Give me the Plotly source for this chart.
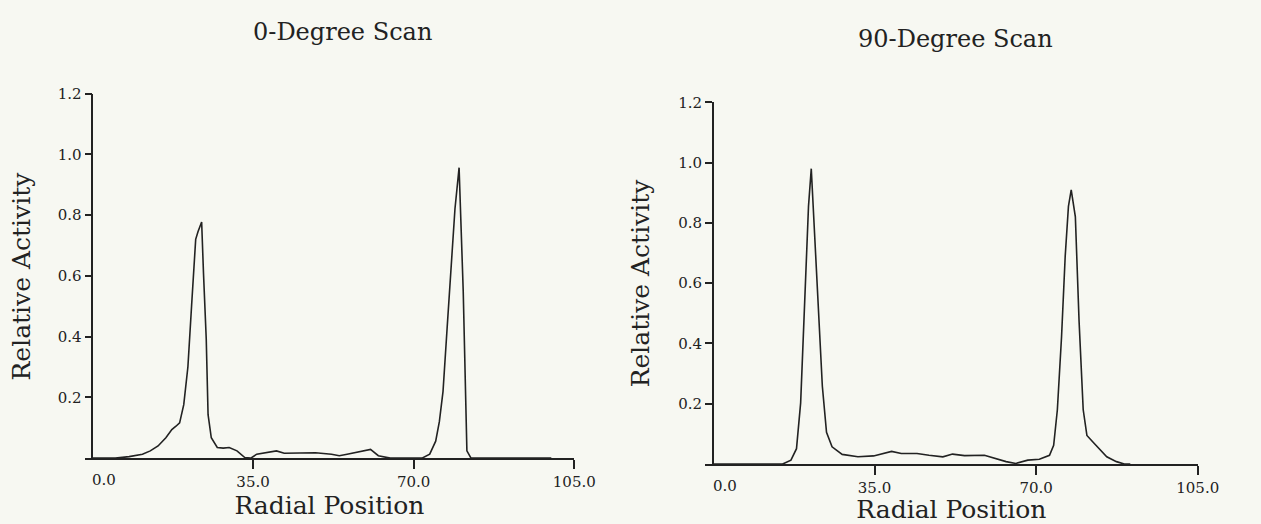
import plotly.graph_objects as go

# Radial activity profiles (relative activity vs radial position)
pos_0deg = [0, 5, 8, 9.2, 10.9, 12.6, 14.3, 16.0, 17.3, 18.2, 19.0, 19.9, 20.8, 21.6,
            22.5, 23.0, 23.4, 23.8, 24.2, 24.8, 25.2, 25.9, 27.2, 28.5, 29.8, 31.5,
            33.2, 34.5, 35.8, 38.3, 40.1, 41.8, 45.2, 48.6, 52.1, 53.8, 55.5, 58.9,
            60.6, 62.3, 64.9, 69.2, 71.8, 73.5, 74.8, 75.6, 76.4, 77.3, 78.2, 79.0,
            79.9, 80.8, 81.6, 82.5, 90.0, 100.0]
act_0deg = [0.0, 0.0, 0.005, 0.008, 0.013, 0.024, 0.04, 0.067, 0.094, 0.105, 0.116,
            0.176, 0.3, 0.5, 0.72, 0.745, 0.765, 0.777, 0.609, 0.392, 0.143, 0.067,
            0.035, 0.033, 0.035, 0.024, 0.002, 0.0, 0.013, 0.018, 0.024, 0.016,
            0.018, 0.018, 0.013, 0.008, 0.013, 0.024, 0.029, 0.008, 0.0, 0.0, 0.0,
            0.013, 0.056, 0.12, 0.22, 0.43, 0.65, 0.82, 0.956, 0.55, 0.024, 0.0,
            0.0, 0.0]

pos_90deg = [0, 10, 15.1, 16.9, 18.1, 19.0, 19.8, 20.7, 21.3, 21.9, 22.8, 23.7, 24.6,
             25.8, 28.0, 31.4, 34.8, 37.0, 38.7, 40.8, 44.2, 46.8, 49.8, 51.9, 54.5,
             58.8, 61.3, 63.5, 65.6, 68.2, 70.7, 72.9, 73.8, 74.6, 75.5, 76.3, 77.0,
             77.6, 78.5, 79.3, 80.2, 81.0, 82.3, 83.6, 85.3, 87.4, 89.1, 90.4]
act_90deg = [0.0, 0.0, 0.0, 0.013, 0.051, 0.203, 0.529, 0.855, 0.98, 0.80, 0.529,
             0.258, 0.105, 0.057, 0.032, 0.024, 0.027, 0.035, 0.042, 0.035, 0.035,
             0.029, 0.024, 0.033, 0.028, 0.029, 0.018, 0.008, 0.002, 0.013, 0.016,
             0.029, 0.062, 0.18, 0.42, 0.69, 0.855, 0.91, 0.82, 0.475, 0.18, 0.095,
             0.073, 0.051, 0.024, 0.008, 0.0, 0.0]

panel_titles = ["0-Degree Scan", "90-Degree Scan"]
x_title = "Radial Position"
y_title = "Relative Activity"
x_tickvals = [0, 35, 70, 105]
x_ticktext = ["0.0", "35.0", "70.0", "105.0"]
y_tickvals = [0.2, 0.4, 0.6, 0.8, 1.0, 1.2]
y_ticktext = ["0.2", "0.4", "0.6", "0.8", "1.0", "1.2"]

W, H = 1261, 524
BG = "#f7f8f2"
INK = "#222222"
TEXT_FONT = "DejaVu Serif"
TICK_FONT = "DejaVu Serif"
TICK_SIZE = 15

# pixel geometry of each panel: y-axis x, x-end (105), baseline y, top (1.2) y
panels = [
    dict(x0=94, x1=584, yb=457, yt=86, title_y=23, ytitle_x=22),
    dict(x0=725, x1=1218, yb=463, yt=95, title_y=31, ytitle_x=651),
]
X_MIN, X_MAX = 0.0, 105.0
OVERHANG = 8  # x-axis line runs a few px left of the y-axis

fig = go.Figure()
fig.add_trace(go.Scatter(x=pos_0deg, y=act_0deg, mode="lines",
                         line=dict(color=INK, width=1.6), xaxis="x", yaxis="y",
                         showlegend=False, hoverinfo="skip"))
fig.add_trace(go.Scatter(x=pos_90deg, y=act_90deg, mode="lines",
                         line=dict(color=INK, width=1.6), xaxis="x2", yaxis="y2",
                         showlegend=False, hoverinfo="skip"))

layout = dict(
    width=W, height=H,
    margin=dict(l=0, r=0, t=0, b=0, pad=0),
    paper_bgcolor=BG, plot_bgcolor=BG,
    showlegend=False,
    annotations=[],
)

for i, p in enumerate(panels):
    sfx = "" if i == 0 else str(i + 1)
    px_per_unit = (p["x1"] - p["x0"]) / (X_MAX - X_MIN)
    x_lo = X_MIN - OVERHANG / px_per_unit
    layout["xaxis" + sfx] = dict(
        domain=[(p["x0"] - OVERHANG) / W, p["x1"] / W],
        range=[x_lo, X_MAX],
        anchor="y" + sfx,
        showline=True, linecolor=INK, linewidth=1.6,
        showgrid=False, zeroline=False,
        ticks="outside", ticklen=9, tickwidth=1.6, tickcolor=INK,
        tickvals=x_tickvals[1:], ticktext=x_ticktext[1:],
        tickfont=dict(family=TICK_FONT, size=TICK_SIZE, color=INK),
        title=dict(text=x_title, font=dict(family=TEXT_FONT, size=25, color=INK),
                   standoff=2),
    )
    layout["yaxis" + sfx] = dict(
        domain=[1 - p["yb"] / H, 1 - p["yt"] / H],
        range=[0, 1.2],
        anchor="free", position=p["x0"] / W,
        showline=True, linecolor=INK, linewidth=1.6,
        showgrid=False, zeroline=False,
        ticks="outside", ticklen=7, tickwidth=1.6, tickcolor=INK,
        tickvals=y_tickvals, ticktext=y_ticktext,
        tickfont=dict(family=TICK_FONT, size=TICK_SIZE, color=INK),
    )
    cy = 1 - (p["yb"] + p["yt"]) / 2 / H
    layout["annotations"] += [
        dict(text=panel_titles[i], x=(p["x0"] + p["x1"]) / 2 / W + 0.007 * (1 - i),
             y=1 - p["title_y"] / H,
             xref="paper", yref="paper", showarrow=False, xanchor="center",
             yanchor="middle", font=dict(family=TEXT_FONT, size=24, color=INK)),
        dict(text=y_title, x=p["ytitle_x"] / W, y=cy,
             xref="paper", yref="paper", showarrow=False, textangle=-90,
             xanchor="center", yanchor="middle",
             font=dict(family=TEXT_FONT, size=25, color=INK)),
        dict(text=x_ticktext[0], x=X_MIN, y=0, xref="x" + sfx, yref="y" + sfx,
             showarrow=False, xanchor="left", yanchor="top", yshift=-11,
             xshift=-2, font=dict(family=TICK_FONT, size=TICK_SIZE, color=INK)),
    ]

fig.update_layout(**layout)

# short downward tick at the origin of each panel
for i, p in enumerate(panels):
    sfx = "" if i == 0 else str(i + 1)
    fig.add_shape(type="line", xref="x" + sfx, yref="y" + sfx,
                  x0=X_MIN, x1=X_MIN, y0=0, y1=-9 * 1.2 / (p["yb"] - p["yt"]),
                  line=dict(color=INK, width=1.6))

fig.write_html("out.html")
